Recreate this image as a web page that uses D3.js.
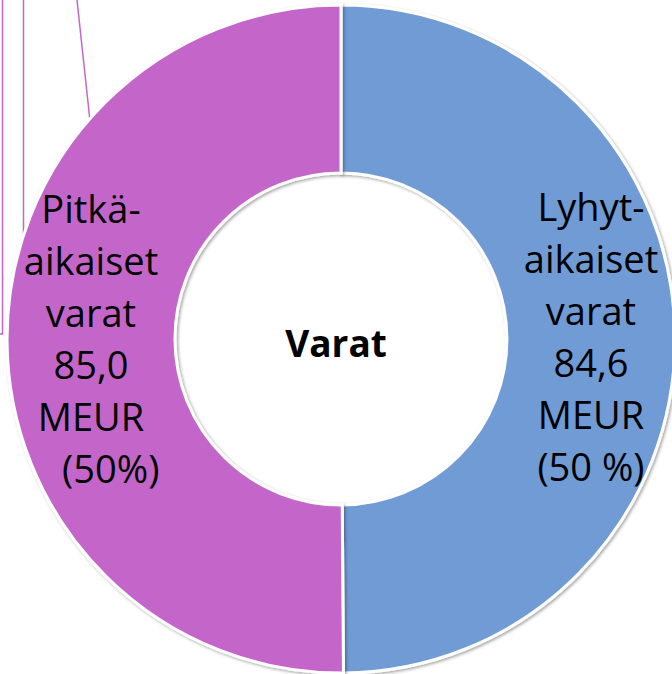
<!DOCTYPE html>
<html lang="fi">
  <head>
    <meta charset="utf-8" />
    <style>
      body { margin: 0; background: #fff; }
      text { font-family: "Open Sans", sans-serif; }
    </style>
  </head>
  <body>
    <script src="https://d3js.org/d3.v7.min.js"></script>
    <script>
      // data
      var categories = ["Lyhytaikaiset varat", "Pitkäaikaiset varat"];
      var values = [84.6, 85.0];
      var colors = ["#6F9BD4", "#C466C9"];
      var labels = [
        ["Lyhyt-", "aikaiset", "varat", "84,6", "MEUR", "(50 %)"],
        ["Pitkä-", "aikaiset", "varat", "85,0", "MEUR", "    (50%)"]
      ];
      var title = "Varat";

      var width = 672,
        height = 674;
      var cx = 341,
        cy = 339,
        outerR = 334,
        innerR = 166;

      var svg = d3.select("body")
        .append("svg")
        .attr("width", width)
        .attr("height", height);

      var defs = svg.append("defs");
      var f = defs.append("filter").attr("id", "sh")
        .attr("x", "-10%").attr("y", "-10%").attr("width", "120%").attr("height", "120%");
      f.append("feDropShadow")
        .attr("dx", 1.5).attr("dy", 1.5).attr("stdDeviation", 1.5)
        .attr("flood-color", "#000").attr("flood-opacity", 0.35);

      // leftover leader lines at the top-left
      var lc = "#C466C9";
      svg.append("path")
        .attr("d", "M2.5,0 V334 H0")
        .attr("fill", "none").attr("stroke", lc).attr("stroke-width", 1.5);
      svg.append("line")
        .attr("x1", 23.5).attr("y1", 0).attr("x2", 23.5).attr("y2", 234)
        .attr("stroke", lc).attr("stroke-width", 1.5);
      svg.append("line")
        .attr("x1", 77).attr("y1", 0).attr("x2", 90).attr("y2", 121)
        .attr("stroke", lc).attr("stroke-width", 1.5);

      var pie = d3.pie().sort(null).value(function (d) { return d; });
      var arcs = pie(values);
      var arc = d3.arc().innerRadius(innerR).outerRadius(outerR);
      var labelArc = d3.arc().innerRadius((innerR + outerR) / 2).outerRadius((innerR + outerR) / 2);

      var g = svg.append("g").attr("transform", "translate(" + cx + "," + cy + ")");

      g.selectAll("path.slice")
        .data(arcs)
        .join("path")
        .attr("class", "slice")
        .attr("d", arc)
        .attr("fill", function (d, i) { return colors[i]; })
        .attr("stroke", "#fff")
        .attr("stroke-width", 3)
        .attr("filter", "url(#sh)");

      var lineH = 52;
      g.selectAll("text.lbl")
        .data(arcs)
        .join("text")
        .attr("class", "lbl")
        .attr("text-anchor", "middle")
        .attr("font-size", 38)
        .attr("fill", "#000")
        .style("white-space", "pre")
        .each(function (d, i) {
          var c = labelArc.centroid(d);
          var lines = labels[i];
          var y0 = c[1] + 13 - (lines.length - 1) / 2 * lineH;
          d3.select(this).selectAll("tspan")
            .data(lines)
            .join("tspan")
            .attr("x", c[0])
            .attr("y", function (t, k) { return y0 + k * lineH; })
            .text(function (t) { return t; });
        });

      g.append("text")
        .attr("x", -5)
        .attr("y", 18)
        .attr("text-anchor", "middle")
        .attr("font-size", 37)
        .attr("font-weight", "bold")
        .text(title);
    </script>
  </body>
</html>
